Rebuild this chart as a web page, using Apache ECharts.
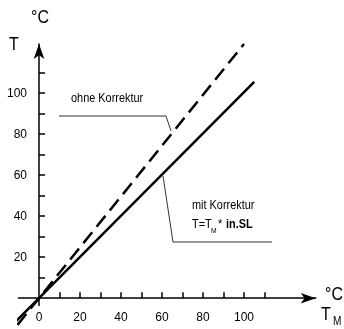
<!DOCTYPE html>
<html>
<head>
<meta charset="utf-8">
<script src="https://cdn.jsdelivr.net/npm/echarts@6/dist/echarts.min.js"></script>
<style>
  html, body { margin: 0; padding: 0; background: #fff; }
  #main { width: 344px; height: 329px; }
</style>
</head>
<body>
<div id="main"></div>
<script>
// Kennlinien T ueber T_M
var ohneKorrektur = [[-10.5, -13], [100, 124]];
var mitKorrektur = [[-13, -13], [105, 105.5]];
var xTicks = [10, 20, 30, 40, 50, 60, 70, 80, 90, 100, 110];
var xLabels = [0, 20, 40, 60, 80, 100];
var yTicks = [10, 20, 30, 40, 50, 60, 70, 80, 90, 100, 110];
var yLabels = [20, 40, 60, 80, 100];

var FONT = "'Liberation Sans', Arial, sans-serif";

// schmale Schrift nachahmen
function txt(left, top, text, size, extra) {
  return {
    type: 'text', left: left, top: top, scaleX: 0.84,
    style: { text: text, font: (extra || '') + size + 'px ' + FONT, fill: '#000' }
  };
}

var chart = echarts.init(document.getElementById('main'));
option = {
  animation: false,
  backgroundColor: '#fff',
  grid: { left: 18.5, right: 28.25, top: 44, bottom: 23.6, containLabel: false, outerBoundsMode: 'none' },
  xAxis: {
    type: 'value',
    min: -10, max: 135,
    splitLine: { show: false },
    axisLine: {
      onZero: true,
      symbol: ['none', 'arrow'],
      symbolSize: [8, 15],
      lineStyle: { color: '#000', width: 1.5 }
    },
    axisTick: { inside: true, length: 6, customValues: xTicks, lineStyle: { color: '#000', width: 1.5 } },
    axisLabel: { customValues: xLabels, color: '#000', fontFamily: FONT, fontSize: 12, margin: 6 }
  },
  yAxis: {
    type: 'value',
    min: -3.5, max: 124,
    splitLine: { show: false },
    axisLine: {
      onZero: true,
      symbol: ['none', 'arrow'],
      symbolSize: [8, 15],
      lineStyle: { color: '#000', width: 1.5 }
    },
    axisTick: { inside: true, length: 6, customValues: yTicks, lineStyle: { color: '#000', width: 1.5 } },
    axisLabel: { customValues: yLabels, color: '#000', fontFamily: FONT, fontSize: 12, margin: -8.5 }
  },
  series: [
    {
      name: 'ohne Korrektur',
      type: 'line',
      data: ohneKorrektur,
      clip: false,
      symbol: 'none',
      lineStyle: { color: '#000', width: 2.5, type: [14, 7] }
    },
    {
      name: 'mit Korrektur',
      type: 'line',
      data: mitKorrektur,
      clip: false,
      symbol: 'none',
      lineStyle: { color: '#000', width: 2.5 }
    }
  ],
  graphic: [
    // Achsenbeschriftung
    txt(31, 8, '°C', 19),
    txt(9, 35, 'T', 19),
    txt(325, 285, '°C', 19),
    txt(321, 305, 'T', 19),
    txt(333, 316, 'M', 12),
    // Anmerkungen
    txt(71, 92, 'ohne Korrektur', 13),
    { type: 'polyline', shape: { points: [[59, 116], [166, 116], [171, 131]] }, style: { stroke: '#333', lineWidth: 1, fill: null } },
    txt(192, 199, 'mit Korrektur', 13),
    txt(192, 218, 'T=T', 13),
    txt(211, 227, 'M', 8),
    txt(218, 218, '*', 13),
    txt(226, 218, 'in.SL', 13, 'bold '),
    { type: 'polyline', shape: { points: [[163, 176], [173, 242], [272, 242]] }, style: { stroke: '#333', lineWidth: 1, fill: null } }
  ]
};

chart.setOption(option);
</script>
</body>
</html>
